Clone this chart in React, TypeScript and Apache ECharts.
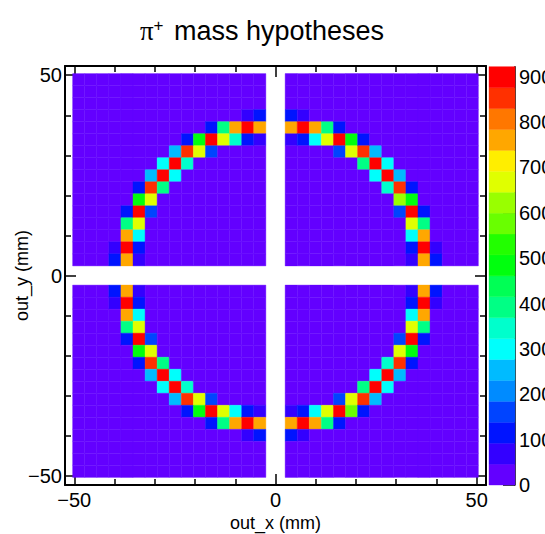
import React, { useEffect, useRef } from "react";
import * as echarts from "echarts";

// ---------------- data ----------------
const titleText = "{pi|π}{sup|+} mass hypotheses";
const xTitle = "out_x (mm)";
const yTitle = "out_y (mm)";
const axisMin = -52.3;
const axisMax = 52.3;
const majorTicks = [-50, 0, 50];
const minorTicks = [-40, -30, -20, -10, 10, 20, 30, 40];
const zMax = 922;
const nContours = 20;
const zTicks = [0, 100, 200, 300, 400, 500, 600, 700, 800, 900];

// binning: 4 panels of 16 x 16 bins (3 mm), separated by a central gap
const binWidth = 3;
const panelInner = 2.4;
const binsPerPanel = 16;
const backgroundCount = 12;

// hits per panel: [column (0 = left of panel), row (0 = top of panel), counts]
const hitsTopLeft = [
  [14, 3, 70], [15, 3, 115],
  [11, 4, 115], [12, 4, 395], [13, 4, 765], [14, 4, 905], [15, 4, 765],
  [9, 5, 115], [10, 5, 485], [11, 5, 905], [12, 5, 670], [13, 5, 345], [14, 5, 115], [15, 5, 70],
  [8, 6, 255], [9, 6, 860], [10, 6, 670], [11, 6, 160],
  [7, 7, 300], [8, 7, 905], [9, 7, 345],
  [6, 8, 255], [7, 8, 905], [8, 8, 300],
  [5, 9, 115], [6, 9, 860], [7, 9, 395],
  [5, 10, 485], [6, 10, 670],
  [4, 11, 115], [5, 11, 905], [6, 11, 160],
  [4, 12, 395], [5, 12, 670],
  [4, 13, 765], [5, 13, 300],
  [3, 14, 70], [4, 14, 905], [5, 14, 115],
  [3, 15, 115], [4, 15, 765], [5, 15, 70],
];
const hitsTopRight = [
  [0, 3, 115], [1, 3, 70],
  [0, 4, 765], [1, 4, 922], [2, 4, 765], [3, 4, 395], [4, 4, 115],
  [0, 5, 70], [1, 5, 115], [2, 5, 300], [3, 5, 670], [4, 5, 905], [5, 5, 485], [6, 5, 115],
  [4, 6, 160], [5, 6, 670], [6, 6, 860], [7, 6, 255],
  [6, 7, 395], [7, 7, 905], [8, 7, 300],
  [7, 8, 300], [8, 8, 905], [9, 8, 255],
  [8, 9, 345], [9, 9, 860], [10, 9, 115],
  [9, 10, 625], [10, 10, 485],
  [9, 11, 160], [10, 11, 905], [11, 11, 115],
  [10, 12, 670], [11, 12, 395],
  [10, 13, 300], [11, 13, 765],
  [10, 14, 115], [11, 14, 905], [12, 14, 70],
  [10, 15, 70], [11, 15, 765], [12, 15, 115],
];
const hitsBottomLeft = [
  [3, 0, 115], [4, 0, 765], [5, 0, 70],
  [3, 1, 70], [4, 1, 905], [5, 1, 115],
  [4, 2, 765], [5, 2, 300],
  [4, 3, 395], [5, 3, 670],
  [4, 4, 115], [5, 4, 905], [6, 4, 160],
  [5, 5, 485], [6, 5, 670],
  [5, 6, 115], [6, 6, 860], [7, 6, 395],
  [6, 7, 255], [7, 7, 905], [8, 7, 300],
  [7, 8, 300], [8, 8, 905], [9, 8, 345],
  [8, 9, 255], [9, 9, 860], [10, 9, 670], [11, 9, 160],
  [9, 10, 115], [10, 10, 485], [11, 10, 905], [12, 10, 670], [13, 10, 300], [14, 10, 115], [15, 10, 70],
  [11, 11, 115], [12, 11, 395], [13, 11, 765], [14, 11, 905], [15, 11, 765],
  [14, 12, 70], [15, 12, 115],
];
const hitsBottomRight = [
  [10, 0, 70], [11, 0, 765], [12, 0, 115],
  [10, 1, 115], [11, 1, 905], [12, 1, 70],
  [10, 2, 300], [11, 2, 765],
  [10, 3, 670], [11, 3, 395],
  [9, 4, 160], [10, 4, 905], [11, 4, 115],
  [9, 5, 670], [10, 5, 485],
  [8, 6, 345], [9, 6, 860], [10, 6, 115],
  [7, 7, 300], [8, 7, 905], [9, 7, 255],
  [6, 8, 395], [7, 8, 905], [8, 8, 300],
  [4, 9, 160], [5, 9, 670], [6, 9, 860], [7, 9, 255],
  [0, 10, 70], [1, 10, 115], [2, 10, 300], [3, 10, 670], [4, 10, 905], [5, 10, 580], [6, 10, 115],
  [0, 11, 765], [1, 11, 905], [2, 11, 765], [3, 11, 395], [4, 11, 115],
  [0, 12, 115], [1, 12, 70],
];

// ---------------- helpers ----------------
function hueToHex(h: number): string {
  const a = 0.5;
  const f = (n: number) => {
    const k = (n + h / 30) % 12;
    const v = 0.5 - a * Math.max(-1, Math.min(k - 3, 9 - k, 1));
    return Math.round(v * 255).toString(16).padStart(2, "0");
  };
  return "#" + f(0) + f(8) + f(4);
}
// ROOT "pretty" palette (50 colours violet -> red) sampled for 20 contours
function contourColor(k: number): string {
  const idx = Math.floor(((k + 0.99) * 50) / nContours);
  const hue = 280 - (idx + 1) * (280 / 50);
  return hueToHex(hue);
}
function valueColor(v: number): string {
  let k = Math.floor(v / (zMax / nContours));
  if (k < 0) k = 0;
  if (k > nContours - 1) k = nContours - 1;
  return contourColor(k);
}
const panelOuter = panelInner + binWidth * binsPerPanel;
function buildCells() {
  const quads = [
    { hits: hitsTopLeft, x0: -panelOuter, yTop: panelOuter },
    { hits: hitsTopRight, x0: panelInner, yTop: panelOuter },
    { hits: hitsBottomLeft, x0: -panelOuter, yTop: -panelInner },
    { hits: hitsBottomRight, x0: panelInner, yTop: -panelInner },
  ];
  const cells: number[][] = [];
  quads.forEach((q) => {
    const map: Record<string, number> = {};
    q.hits.forEach(([c, r, v]) => (map[c + "_" + r] = v));
    for (let c = 0; c < binsPerPanel; c++) {
      for (let r = 0; r < binsPerPanel; r++) {
        const v = map[c + "_" + r] ?? backgroundCount;
        cells.push([q.x0 + binWidth * (c + 0.5), q.yTop - binWidth * (r + 0.5), v]);
      }
    }
  });
  return cells;
}
const bands = Array.from({ length: nContours }, (_, k) => [
  0.5,
  (k * zMax) / nContours,
  ((k + 1) * zMax) / nContours,
  k,
]);

const minus = (v: number) => (v < 0 ? "\u2212" + Math.abs(v) : String(v));
const FONT = "Liberation Sans";
const black = "#000";
const LABEL_SIZE = 20;

function frameAxis(kind: "x" | "y", position: string, ticks: number[], len: number, withLabels: boolean, showLine: boolean) {
  const ax: any = {
    type: "value",
    gridIndex: 0,
    position,
    min: axisMin,
    max: axisMax,
    axisLine: { show: showLine, onZero: false, lineStyle: { color: black, width: 2 } },
    axisTick: { show: true, inside: true, length: len, customValues: ticks, lineStyle: { color: black, width: 1.5 } },
    axisLabel: withLabels
      ? { show: true, customValues: ticks, formatter: minus, fontSize: LABEL_SIZE, fontFamily: FONT, color: black, margin: kind === "x" ? 5 : 3 }
      : { show: false },
    splitLine: { show: false },
  };
  if (withLabels) {
    ax.name = kind === "x" ? xTitle : yTitle;
    ax.nameLocation = "middle";
    ax.nameGap = kind === "x" ? 29 : 34;
    ax.nameMoveOverlap = false;
    ax.nameTextStyle = { fontSize: 18, fontFamily: FONT, color: black };
  }
  return ax;
}

export default function App() {
  const ref = useRef<HTMLDivElement>(null);
  useEffect(() => {
    if (!ref.current) return;
    const chart = echarts.init(ref.current, undefined, { renderer: "svg" });
    const cells = buildCells();
    chart.setOption({
      animation: false,
      backgroundColor: "#fff",
      title: {
        text: titleText,
        left: 257,
        top: 12,
        textAlign: "center",
        textStyle: {
          fontSize: 27,
          fontWeight: "normal",
          fontFamily: FONT,
          color: black,
          rich: {
            pi: { fontSize: 27, fontFamily: "Liberation Serif", color: black },
            sup: { fontSize: 17, fontFamily: FONT, color: black, verticalAlign: "top", padding: [0, 3, 11, 0] },
          },
        },
      },
      grid: [
        { left: 65, top: 66, width: 421, height: 419, outerBoundsMode: "none", containLabel: false },
        { left: 489, top: 66.7, width: 26, height: 418.3, outerBoundsMode: "none", containLabel: false },
      ],
      xAxis: [
        frameAxis("x", "bottom", majorTicks, 11, true, true),
        frameAxis("x", "bottom", minorTicks, 6, false, false),
        frameAxis("x", "top", majorTicks, 11, false, true),
        frameAxis("x", "top", minorTicks, 6, false, false),
        { type: "value", gridIndex: 1, min: 0, max: 1, show: false },
      ],
      yAxis: [
        frameAxis("y", "left", majorTicks, 11, true, true),
        frameAxis("y", "left", minorTicks, 6, false, false),
        frameAxis("y", "right", majorTicks, 11, false, true),
        frameAxis("y", "right", minorTicks, 6, false, false),
        {
          type: "value",
          gridIndex: 1,
          position: "right",
          min: 0,
          max: zMax,
          axisLine: { show: true, onZero: false, lineStyle: { color: black, width: 1.5 } },
          axisTick: { show: true, inside: true, length: 12, customValues: zTicks, lineStyle: { color: black, width: 1.5 } },
          axisLabel: { show: true, customValues: zTicks, fontSize: LABEL_SIZE, fontFamily: FONT, color: black, margin: 4 },
          splitLine: { show: false },
        },
      ],
      series: [
        {
          type: "custom",
          xAxisIndex: 0,
          yAxisIndex: 0,
          data: cells,
          encode: { x: 0, y: 1 },
          renderItem: (_p: any, api: any) => {
            const x = api.value(0);
            const y = api.value(1);
            const v = api.value(2);
            const p0 = api.coord([x - binWidth / 2, y + binWidth / 2]);
            const p1 = api.coord([x + binWidth / 2, y - binWidth / 2]);
            const c = valueColor(v);
            return {
              type: "rect",
              shape: { x: p0[0], y: p0[1], width: p1[0] - p0[0], height: p1[1] - p0[1] },
              style: { fill: c, stroke: c, lineWidth: 0.4 },
            };
          },
        },
        {
          type: "custom",
          xAxisIndex: 4,
          yAxisIndex: 4,
          data: bands,
          encode: { x: 0, y: [1, 2] },
          renderItem: (_p: any, api: any) => {
            const lo = api.value(1);
            const hi = api.value(2);
            const k = api.value(3);
            const p0 = api.coord([0, hi]);
            const p1 = api.coord([1, lo]);
            const c = contourColor(k);
            return {
              type: "rect",
              shape: { x: p0[0], y: p0[1], width: p1[0] - p0[0], height: p1[1] - p0[1] },
              style: { fill: c, stroke: c, lineWidth: 0.4 },
            };
          },
        },
      ],
    });
    return () => chart.dispose();
  }, []);
  return (
    <div
      ref={ref}
      style={{ position: "absolute", left: 0, top: 0, width: 545, height: 534, background: "#fff" }}
    />
  );
}
